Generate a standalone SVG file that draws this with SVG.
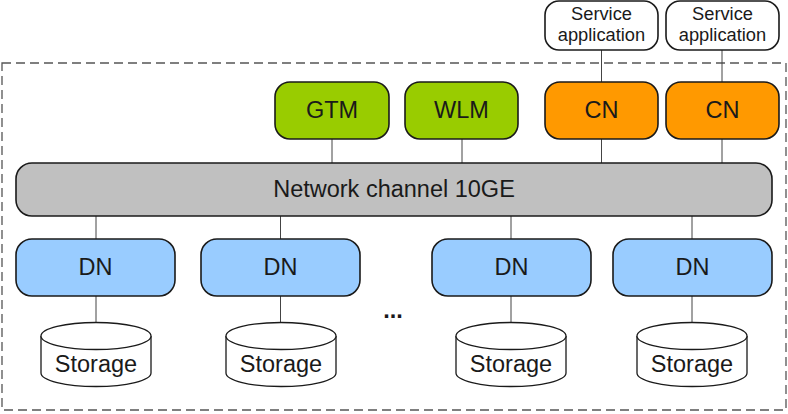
<svg xmlns="http://www.w3.org/2000/svg" width="788" height="414" viewBox="0 0 788 414">
<style>
.box{stroke:#1a1a1a;stroke-width:1.6}
.t{font-family:"Liberation Sans",Arial,sans-serif;font-size:23.5px;fill:#1a1a1a;text-anchor:middle}
.s{font-family:"Liberation Sans",Arial,sans-serif;font-size:18.3px;fill:#1a1a1a;text-anchor:middle}
.c{stroke:#444;stroke-width:1;fill:none}
.green{fill:#99CC00}
.orange{fill:#FF9900}
.blue{fill:#99CCFF}
.cyl{fill:#fff;stroke:#1a1a1a;stroke-width:1.3}
</style>
<rect x="2" y="63" width="784" height="347" fill="none" stroke="#555" stroke-width="1.3" stroke-dasharray="9,5"/>
<g id="connectors">
<line class="c" x1="601.5" y1="50" x2="601.5" y2="82"/>
<line class="c" x1="722" y1="50" x2="722" y2="82"/>
<line class="c" x1="332" y1="139" x2="332" y2="163"/>
<line class="c" x1="462" y1="139" x2="462" y2="163"/>
<line class="c" x1="601.5" y1="139" x2="601.5" y2="163"/>
<line class="c" x1="722" y1="139" x2="722" y2="163"/>
<line class="c" x1="96" y1="216" x2="96" y2="239"/>
<line class="c" x1="280.5" y1="216" x2="280.5" y2="239"/>
<line class="c" x1="511" y1="216" x2="511" y2="239"/>
<line class="c" x1="692" y1="216" x2="692" y2="239"/>
<line class="c" x1="96" y1="296" x2="96" y2="323"/>
<line class="c" x1="280.5" y1="296" x2="280.5" y2="323"/>
<line class="c" x1="511" y1="296" x2="511" y2="323"/>
<line class="c" x1="692" y1="296" x2="692" y2="323"/>
</g>
<g id="sa1"><rect class="box" x="545" y="1" width="113" height="49" rx="14" fill="#fff"/><text class="s" x="601.5" y="20">Service</text><text class="s" x="601.5" y="41">application</text></g>
<g id="sa2"><rect class="box" x="666" y="1" width="113" height="49" rx="14" fill="#fff"/><text class="s" x="722.5" y="20">Service</text><text class="s" x="722.5" y="41">application</text></g>
<g id="gtm"><rect class="box green" x="275" y="82" width="114" height="57" rx="15"/><text class="t" x="332" y="118">GTM</text></g>
<g id="wlm"><rect class="box green" x="405" y="82" width="113" height="57" rx="15"/><text class="t" x="461.5" y="118">WLM</text></g>
<g id="cn1"><rect class="box orange" x="545" y="82" width="113" height="57" rx="15"/><text class="t" x="601.5" y="118">CN</text></g>
<g id="cn2"><rect class="box orange" x="666" y="82" width="113" height="57" rx="15"/><text class="t" x="722.5" y="118">CN</text></g>
<g id="net"><rect class="box" x="16" y="163" width="756" height="53" rx="16" fill="#C0C0C0"/><text class="t" x="394" y="197">Network channel 10GE</text></g>
<g id="dn1"><rect class="box blue" x="16" y="239" width="159" height="57" rx="16"/><text class="t" x="95.5" y="275">DN</text></g>
<g id="dn2"><rect class="box blue" x="201" y="239" width="159" height="57" rx="16"/><text class="t" x="280.5" y="275">DN</text></g>
<g id="dn3"><rect class="box blue" x="432" y="239" width="159" height="57" rx="16"/><text class="t" x="511.5" y="275">DN</text></g>
<g id="dn4"><rect class="box blue" x="613" y="239" width="159" height="57" rx="16"/><text class="t" x="692.5" y="275">DN</text></g>
<g id="st1"><path class="cyl" d="M41,336 A55,13.5 0 0 1 151,336 L151,373 A55,13.5 0 0 1 41,373 Z"/><path class="cyl" fill="none" d="M41,336 A55,13.5 0 0 0 151,336"/><text class="t" x="96" y="372">Storage</text></g>
<g id="st2"><path class="cyl" d="M226,336 A55,13.5 0 0 1 336,336 L336,373 A55,13.5 0 0 1 226,373 Z"/><path class="cyl" fill="none" d="M226,336 A55,13.5 0 0 0 336,336"/><text class="t" x="281" y="372">Storage</text></g>
<g id="st3"><path class="cyl" d="M456,336 A55,13.5 0 0 1 566,336 L566,373 A55,13.5 0 0 1 456,373 Z"/><path class="cyl" fill="none" d="M456,336 A55,13.5 0 0 0 566,336"/><text class="t" x="511" y="372">Storage</text></g>
<g id="st4"><path class="cyl" d="M637,336 A55,13.5 0 0 1 747,336 L747,373 A55,13.5 0 0 1 637,373 Z"/><path class="cyl" fill="none" d="M637,336 A55,13.5 0 0 0 747,336"/><text class="t" x="692" y="372">Storage</text></g>
<text class="t" x="393" y="318" font-weight="bold">...</text>
</svg>
